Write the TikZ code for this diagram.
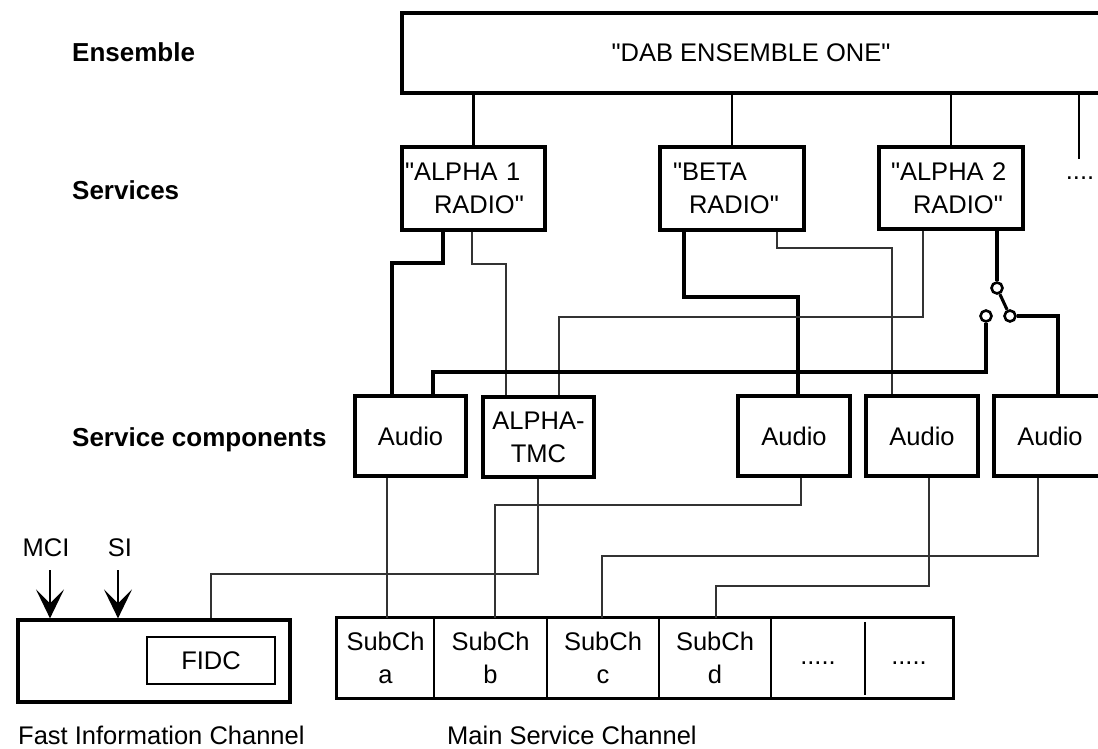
\documentclass[tikz,border=0pt]{standalone}
\usepackage{fontspec}
\setmainfont{Liberation Sans}[Ligatures=TeXOff]
\usetikzlibrary{arrows.meta}
\begin{document}
\begin{tikzpicture}[x=1pt,y=-1pt,
  txt/.style={font=\fontsize{25.5}{33}\selectfont, inner sep=0pt},
  hdr/.style={font=\fontsize{26}{30}\selectfont\bfseries, inner sep=0pt, anchor=west},
  box/.style={txt, draw, line width=3.2pt},
  cell/.style={txt, align=center},
  thk/.style={line width=3.1pt},
  thn/.style={line width=1.2pt, black!80},
  mid/.style={line width=2.7pt},
  sw/.style={circle, draw, line width=2.6pt, fill=white, minimum size=11pt, inner sep=0pt},
  arr/.style={line width=2.4pt, -{Stealth[length=29pt, width=28pt, inset=14pt]}}]
\useasboundingbox (0,0) rectangle (1098,749);
\clip (0,0) rectangle (1098,749);

% left labels
\node[hdr] (lens) at (72,52) {Ensemble};
\node[hdr] (lsvc) at (72,190) {Services};
\node[hdr] (lcmp) at (72,440) {Service components};

% ensemble
\node[box, minimum width=698pt, minimum height=80pt] (ens) at (751,53) {"DAB ENSEMBLE ONE"};

% services
\node[box, minimum width=143pt, minimum height=83pt, text width=137pt, inner xsep=3pt, align=left] (s1) at (473.5,188.5) {"ALPHA 1\\\hspace*{29pt}RADIO"};
\node[box, minimum width=144pt, minimum height=83pt, text width=118pt, inner xsep=13pt, align=left] (s2) at (732,188.5) {"BETA\\\hspace*{16pt}RADIO"};
\node[box, minimum width=144pt, minimum height=82pt, text width=120pt, inner xsep=12pt, align=left] (s3) at (951,188) {"ALPHA 2\\\hspace*{22pt}RADIO"};
\coordinate (d4) at (1079,159);
\node[txt, anchor=base] (more) at (1080,179) {....};

% ensemble to services
\draw[mid] (s1.north |- ens.south) -- (s1.north);
\draw[mid] (s2.north |- ens.south) -- (s2.north);
\draw[mid] (s3.north |- ens.south) -- (s3.north);
\draw[mid] (d4 |- ens.south) -- (d4);

% service components
\node[box, minimum width=111pt, minimum height=80pt] (c1) at (410.5,436) {Audio};
\node[box, minimum width=111pt, minimum height=80pt, align=center] (c2) at (538.5,437) {ALPHA-\\TMC};
\node[box, minimum width=112pt, minimum height=80pt] (c3) at (794,436) {Audio};
\node[box, minimum width=112pt, minimum height=80pt] (c4) at (922,436) {Audio};
\node[box, minimum width=112pt, minimum height=80pt] (c5) at (1050,436) {Audio};

% switch
\node[sw] (k1) at (997,288) {};
\node[sw] (k2) at (986,316) {};
\node[sw] (k3) at (1010,316) {};

% bend points
\coordinate (a1) at (443,263); \coordinate (a2) at (392,263);
\coordinate (b1) at (472,264); \coordinate (b2) at (506,264);
\coordinate (e1) at (684,297); \coordinate (e2) at (798,297);
\coordinate (f1) at (777,248); \coordinate (f2) at (892,248);
\coordinate (g1) at (923,317); \coordinate (g2) at (559,317);
\coordinate (h1) at (986,372); \coordinate (h2) at (433,372);
\coordinate (i1) at (1058,316);

% services to components
\draw[thk] (a1 |- s1.south) -- (a1) -- (a2) -- (a2 |- c1.north);
\draw[thn] (b1 |- s1.south) -- (b1) -- (b2) -- (b2 |- c2.north);
\draw[thk] (e1 |- s2.south) -- (e1) -- (e2) -- (e2 |- c3.north);
\draw[thn] (f1 |- s2.south) -- (f1) -- (f2) -- (f2 |- c4.north);
\draw[thn] (g1 |- s3.south) -- (g1) -- (g2) -- (g2 |- c2.north);
\draw[thk] (s3.south -| k1) -- (k1);
\draw[thk] (k1) -- (k3);
\draw[thk] (k2) -- (h1) -- (h2) -- (h2 |- c1.north);
\draw[thk] (k3) -- (i1) -- (i1 |- c5.north);

% FIC
\node[box, minimum width=272pt, minimum height=82pt] (fic) at (154,661) {};
\node[txt, draw, line width=1.6pt, minimum width=128pt, minimum height=47pt] (fidc) at (211,660.5) {FIDC};
\node[txt] (mci) at (46,548) {MCI};
\node[txt] (si) at (120,548) {SI};
\coordinate (m1) at (50,570);
\coordinate (m2) at (118,570);
\draw[arr] (m1) -- (m1 |- fic.north);
\draw[arr] (m2) -- (m2 |- fic.north);

% MSC cells
\node[cell, minimum width=97pt, minimum height=80pt] (sa) at (385.5,658) {SubCh\\a};
\node[cell, minimum width=113pt, minimum height=80pt] (sb) at (490.5,658) {SubCh\\b};
\node[cell, minimum width=112pt, minimum height=80pt] (sc) at (603,658) {SubCh\\c};
\node[cell, minimum width=112pt, minimum height=80pt] (sd) at (715,658) {SubCh\\d};
\node[cell, minimum width=94pt, minimum height=80pt] (se) at (818,658) {\raisebox{-12pt}{.....}};
\node[cell, minimum width=88pt, minimum height=80pt] (sf) at (909,658) {\raisebox{-12pt}{.....}};
\draw[line width=2.4pt] (sa.north east) -- (sa.south east);
\draw[line width=2.4pt] (sb.north east) -- (sb.south east);
\draw[line width=2.4pt] (sc.north east) -- (sc.south east);
\draw[line width=2.4pt] (sd.north east) -- (sd.south east);
\draw[line width=2.4pt] ([yshift=-4pt]se.north east) -- ([yshift=3pt]se.south east);
\draw[line width=3.2pt] (sa.north west) rectangle (sf.south east);

% components to channels
\coordinate (t1) at (387,500);
\coordinate (u1) at (538,574); \coordinate (u2) at (211,574);
\coordinate (v1) at (801,505); \coordinate (v2) at (495,505);
\coordinate (w1) at (1038,556); \coordinate (w2) at (602,556);
\coordinate (z1) at (929,586); \coordinate (z2) at (716,586);
\draw[thn] (t1 |- c1.south) -- (t1 |- sa.north);
\draw[thn] (u1 |- c2.south) -- (u1) -- (u2) -- (u2 |- fic.north);
\draw[thn] (v1 |- c3.south) -- (v1) -- (v2) -- (v2 |- sb.north);
\draw[thn] (w1 |- c5.south) -- (w1) -- (w2) -- (w2 |- sc.north);
\draw[thn] (z1 |- c4.south) -- (z1) -- (z2) -- (z2 |- sd.north);

% bottom labels
\node[txt, anchor=west] (lfic) at (18,735) {Fast Information Channel};
\node[txt, anchor=west] (lmsc) at (447,735) {Main Service Channel};
\end{tikzpicture}
\end{document}
